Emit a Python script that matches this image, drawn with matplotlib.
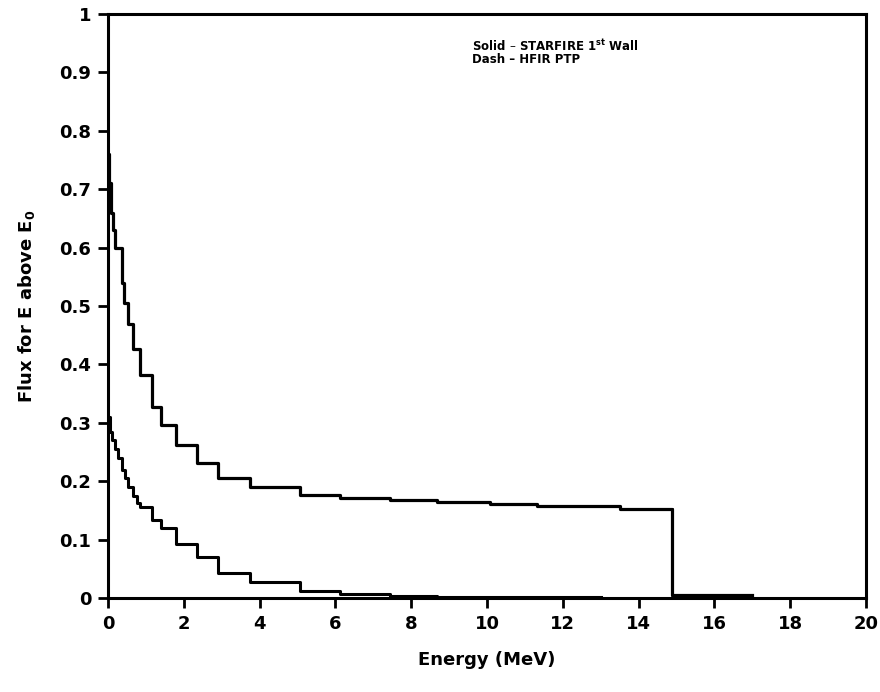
import numpy as np
import matplotlib
matplotlib.use("Agg")
import matplotlib.pyplot as plt

# STARFIRE first wall: bin edges (MeV) and flux above E0
starfire_edges = [0.0, 0.04, 0.08, 0.13, 0.18, 0.37, 0.42, 0.53, 0.66, 0.84,
                  1.16, 1.40, 1.79, 2.35, 2.90, 3.75, 5.07, 6.12, 7.44, 8.68,
                  10.08, 11.32, 13.51, 14.88, 16.99]
starfire_flux = [0.76, 0.71, 0.66, 0.63, 0.60, 0.54, 0.505, 0.47, 0.426, 0.382,
                 0.327, 0.296, 0.262, 0.231, 0.205, 0.190, 0.176, 0.171, 0.168, 0.164,
                 0.161, 0.158, 0.152, 0.006]

# HFIR PTP
hfir_edges = [0.0, 0.05, 0.11, 0.18, 0.26, 0.37, 0.45, 0.53, 0.66, 0.77, 0.84,
              1.16, 1.40, 1.79, 2.35, 2.90, 3.75, 5.07, 6.12, 7.44, 8.68, 13.0]
hfir_flux = [0.31, 0.285, 0.27, 0.255, 0.24, 0.22, 0.205, 0.19, 0.175, 0.163,
             0.156, 0.134, 0.120, 0.092, 0.070, 0.043, 0.027, 0.012, 0.007, 0.004, 0.002]

x_ticks = np.arange(0, 21, 2)
y_ticks = np.arange(0, 1.01, 0.1)
y_labels = ["0", "0.1", "0.2", "0.3", "0.4", "0.5", "0.6", "0.7", "0.8", "0.9", "1"]

fig = plt.figure(figsize=(8.8, 6.92), dpi=100)
ax = fig.add_axes([0.1227, 0.1358, 0.8613, 0.844])

# step curves (hold value across each bin)
sx = np.array(starfire_edges)
sy = np.append(starfire_flux, starfire_flux[-1])
ax.step(sx, sy, where="post", color="black", lw=2.3)
# drop at the 14.9 MeV edge
ax.plot([starfire_edges[-2], starfire_edges[-2]], [starfire_flux[-2], starfire_flux[-1]],
        color="black", lw=1.8)

hx = np.array(hfir_edges)
hy = np.append(hfir_flux, hfir_flux[-1])
ax.step(hx, hy, where="post", color="black", lw=2.2)

ax.set_xlim(0, 20)
ax.set_ylim(0, 1)
ax.set_xticks(x_ticks)
ax.set_xticklabels([str(v) for v in x_ticks])
ax.set_yticks(y_ticks)
ax.set_yticklabels(y_labels)

for s in ax.spines.values():
    s.set_linewidth(2.2)
ax.tick_params(direction="out", length=7, width=2.0, labelsize=13, pad=5)
for lab in ax.get_xticklabels() + ax.get_yticklabels():
    lab.set_fontweight("bold")

ax.set_xlabel("Energy (MeV)", fontsize=13, fontweight="bold", labelpad=13)
ax.set_ylabel("Flux for E above E$_\\mathbf{0}$", fontsize=13, fontweight="bold", labelpad=16)

ax.text(0.48, 0.946, "Solid \u2013 STARFIRE 1$^{\\mathbf{st}}$ Wall", transform=ax.transAxes,
        fontsize=8.5, fontweight="bold", va="center")
ax.text(0.48, 0.922, "Dash \u2013 HFIR PTP", transform=ax.transAxes,
        fontsize=8.5, fontweight="bold", va="center")

fig.savefig("out.png", dpi=100)
